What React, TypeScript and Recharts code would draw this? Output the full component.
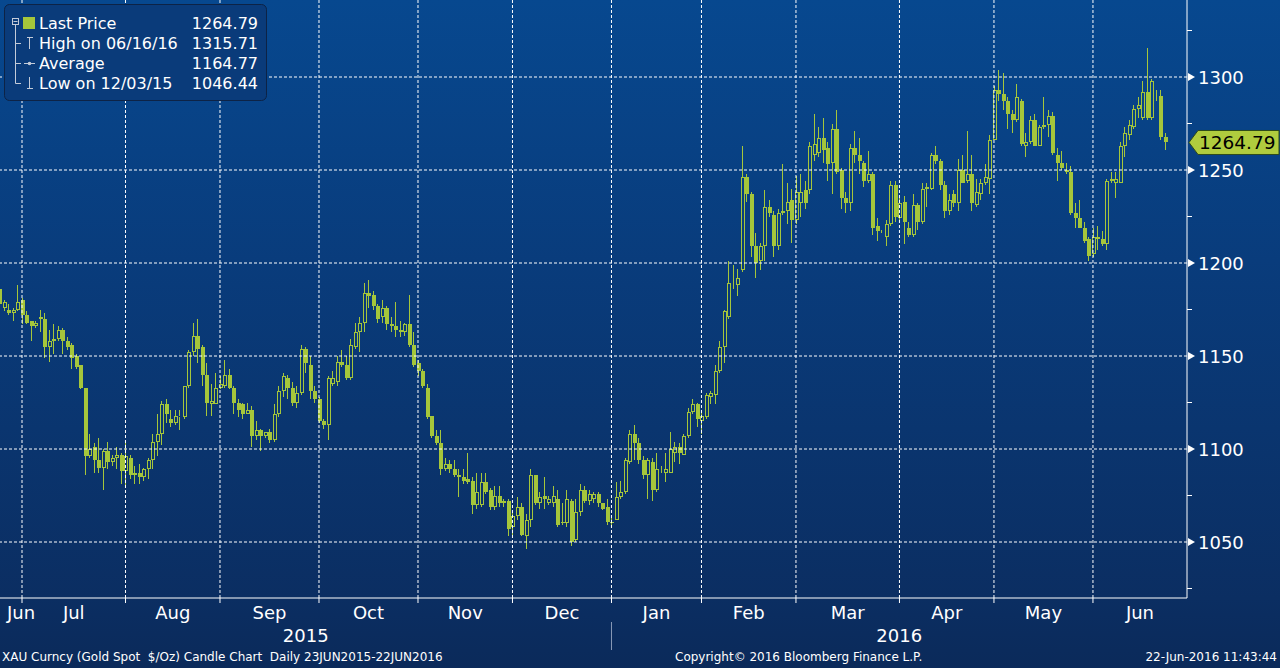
import React from "react"
import { ComposedChart, Bar, XAxis, YAxis, ReferenceLine } from "recharts"

// XAU Curncy daily candles, 23 Jun 2015 - 22 Jun 2016 (one entry per trading day)
const openPx = [
  1186, 1176, 1175, 1173, 1175, 1180, 1172, 1169, 1166, 1170,
  1170, 1155, 1158, 1159, 1164, 1158, 1156, 1150, 1145, 1133,
  1096, 1101, 1094, 1090, 1099, 1093, 1095, 1097, 1088, 1095,
  1086, 1087, 1085, 1089, 1094, 1104, 1108, 1124, 1116, 1114,
  1117, 1117, 1134, 1152, 1161, 1155, 1140, 1124, 1124, 1133,
  1134, 1140, 1133, 1125, 1124, 1119, 1121, 1107, 1110, 1107,
  1109, 1105, 1119, 1131, 1138, 1133, 1125, 1130, 1154, 1145,
  1131, 1127, 1115, 1113, 1135, 1136, 1147, 1145, 1138, 1155,
  1163, 1168, 1184, 1183, 1177, 1171, 1176, 1167, 1166, 1163,
  1163, 1167, 1156, 1146, 1142, 1133, 1118, 1107, 1103, 1089,
  1092, 1089, 1086, 1085, 1084, 1083, 1070, 1070, 1082, 1078,
  1069, 1075, 1071, 1072, 1058, 1064, 1069, 1053, 1062, 1086,
  1071, 1075, 1071, 1071, 1073, 1061, 1060, 1072, 1051, 1066,
  1078, 1072, 1073, 1076, 1071, 1069, 1061, 1062, 1074, 1077,
  1093, 1108, 1103, 1094, 1086, 1093, 1078, 1089, 1087, 1087,
  1098, 1101, 1097, 1107, 1120, 1124, 1115, 1117, 1128, 1129,
  1142, 1155, 1171, 1189, 1188, 1196, 1246, 1237, 1209, 1201,
  1209, 1230, 1226, 1209, 1227, 1228, 1234, 1223, 1232, 1239,
  1239, 1258, 1259, 1267, 1262, 1254, 1272, 1250, 1235, 1232,
  1262, 1258, 1254, 1244, 1248, 1220, 1217, 1214, 1221, 1242,
  1224, 1233, 1219, 1215, 1231, 1222, 1240, 1240, 1258, 1255,
  1242, 1228, 1237, 1232, 1250, 1244, 1248, 1231, 1237, 1243,
  1245, 1266, 1293, 1291, 1287, 1280, 1277, 1287, 1263, 1265,
  1277, 1263, 1273, 1274, 1279, 1258, 1254, 1250, 1249, 1227,
  1224, 1219, 1213, 1205, 1214, 1213, 1210, 1244, 1243, 1243,
  1263, 1269, 1273, 1283, 1278, 1292, 1278, 1290, 1290, 1268,
]

const highPx = [
  1188, 1180, 1178, 1176, 1188, 1181, 1174, 1169, 1169, 1175,
  1173, 1164, 1167, 1166, 1165, 1160, 1157, 1151, 1145, 1133,
  1108, 1103, 1106, 1100, 1104, 1097, 1101, 1098, 1103, 1097,
  1091, 1092, 1090, 1095, 1108, 1119, 1126, 1127, 1121, 1121,
  1121, 1134, 1153, 1168, 1170, 1156, 1146, 1135, 1141, 1139,
  1148, 1143, 1134, 1127, 1125, 1125, 1123, 1115, 1111, 1109,
  1111, 1124, 1134, 1141, 1140, 1136, 1134, 1156, 1155, 1150,
  1134, 1128, 1116, 1139, 1142, 1150, 1153, 1150, 1159, 1168,
  1171, 1189, 1191, 1185, 1178, 1180, 1177, 1171, 1179, 1169,
  1168, 1183, 1163, 1148, 1143, 1135, 1118, 1110, 1110, 1095,
  1094, 1094, 1089, 1089, 1098, 1085, 1087, 1087, 1087, 1079,
  1080, 1080, 1073, 1073, 1066, 1074, 1071, 1065, 1089, 1086,
  1077, 1085, 1075, 1080, 1078, 1071, 1078, 1073, 1073, 1081,
  1080, 1078, 1077, 1077, 1071, 1073, 1063, 1082, 1083, 1095,
  1110, 1113, 1106, 1096, 1095, 1095, 1098, 1091, 1098, 1109,
  1104, 1103, 1108, 1122, 1127, 1125, 1121, 1130, 1131, 1145,
  1158, 1175, 1201, 1199, 1197, 1263, 1248, 1238, 1216, 1211,
  1239, 1234, 1228, 1229, 1253, 1243, 1240, 1247, 1248, 1244,
  1265, 1280, 1273, 1278, 1265, 1275, 1282, 1251, 1238, 1264,
  1271, 1267, 1255, 1260, 1249, 1224, 1218, 1223, 1244, 1244,
  1235, 1236, 1222, 1237, 1232, 1243, 1243, 1259, 1263, 1256,
  1244, 1237, 1239, 1256, 1258, 1271, 1258, 1245, 1245, 1253,
  1269, 1295, 1304, 1302, 1289, 1282, 1296, 1288, 1270, 1279,
  1280, 1274, 1289, 1282, 1281, 1262, 1260, 1254, 1252, 1232,
  1234, 1222, 1214, 1219, 1220, 1217, 1245, 1249, 1249, 1265,
  1273, 1277, 1285, 1289, 1298, 1315.71, 1299, 1293, 1293, 1270,
]

const lowPx = [
  1177, 1174, 1172, 1169, 1174, 1167, 1167, 1158, 1165, 1163,
  1149, 1147, 1151, 1158, 1151, 1153, 1143, 1143, 1132, 1086,
  1095, 1087, 1087, 1078, 1089, 1091, 1089, 1081, 1079, 1084,
  1081, 1081, 1083, 1084, 1089, 1096, 1102, 1114, 1112, 1113,
  1110, 1116, 1133, 1150, 1146, 1134, 1118, 1118, 1124, 1132,
  1133, 1132, 1119, 1117, 1116, 1119, 1101, 1105, 1099, 1106,
  1103, 1104, 1117, 1128, 1127, 1123, 1122, 1129, 1141, 1127,
  1125, 1114, 1111, 1105, 1134, 1134, 1144, 1137, 1137, 1154,
  1152, 1163, 1176, 1175, 1168, 1168, 1164, 1163, 1160, 1160,
  1161, 1155, 1144, 1139, 1133, 1116, 1106, 1102, 1086, 1088,
  1087, 1085, 1074, 1081, 1081, 1065, 1068, 1069, 1076, 1067,
  1067, 1069, 1069, 1053, 1053, 1062, 1053, 1046.44, 1058, 1070,
  1068, 1068, 1070, 1069, 1058, 1059, 1058, 1048, 1050, 1064,
  1071, 1070, 1071, 1069, 1067, 1059, 1058, 1062, 1073, 1076,
  1092, 1094, 1092, 1084, 1073, 1072, 1077, 1087, 1082, 1087,
  1093, 1092, 1097, 1106, 1119, 1112, 1108, 1116, 1124, 1124,
  1141, 1146, 1170, 1186, 1182, 1195, 1233, 1203, 1192, 1196,
  1201, 1225, 1203, 1207, 1226, 1221, 1211, 1221, 1225, 1229,
  1237, 1255, 1257, 1254, 1244, 1237, 1248, 1229, 1227, 1228,
  1254, 1248, 1241, 1243, 1215, 1212, 1216, 1209, 1220, 1222,
  1222, 1210, 1214, 1214, 1218, 1221, 1230, 1239, 1253, 1239,
  1224, 1226, 1230, 1228, 1243, 1243, 1228, 1230, 1234, 1242,
  1237, 1266, 1287, 1282, 1272, 1270, 1276, 1263, 1257, 1264,
  1263, 1263, 1272, 1268, 1258, 1244, 1250, 1248, 1226, 1219,
  1219, 1211, 1201, 1203, 1207, 1209, 1207, 1243, 1235, 1243,
  1257, 1266, 1272, 1278, 1277, 1277, 1277, 1287, 1266, 1261,
]

const closePx = [
  1178, 1179, 1173, 1175, 1179, 1172, 1168, 1166, 1168, 1171,
  1155, 1158, 1159, 1164, 1158, 1155, 1149, 1144, 1133, 1096,
  1100, 1094, 1090, 1099, 1093, 1095, 1097, 1088, 1096, 1086,
  1087, 1085, 1089, 1094, 1104, 1108, 1124, 1119, 1114, 1118,
  1118, 1134, 1152, 1161, 1154, 1140, 1125, 1126, 1133, 1135,
  1140, 1133, 1125, 1121, 1119, 1121, 1107, 1110, 1107, 1109,
  1105, 1119, 1131, 1139, 1133, 1125, 1130, 1154, 1146, 1131,
  1127, 1115, 1113, 1138, 1138, 1147, 1145, 1138, 1156, 1163,
  1168, 1184, 1182, 1177, 1170, 1176, 1167, 1166, 1164, 1164,
  1167, 1156, 1145, 1142, 1134, 1117, 1107, 1103, 1089, 1092,
  1089, 1086, 1085, 1083, 1082, 1070, 1077, 1082, 1077, 1069,
  1075, 1071, 1072, 1057, 1064, 1069, 1054, 1062, 1086, 1071,
  1074, 1073, 1073, 1075, 1059, 1060, 1073, 1050, 1066, 1078,
  1072, 1076, 1076, 1071, 1068, 1061, 1060, 1074, 1077, 1094,
  1108, 1103, 1094, 1086, 1094, 1078, 1089, 1089, 1089, 1100,
  1101, 1098, 1107, 1120, 1124, 1116, 1118, 1129, 1130, 1142,
  1155, 1174, 1189, 1189, 1192, 1246, 1237, 1209, 1200, 1209,
  1230, 1227, 1209, 1227, 1228, 1233, 1223, 1238, 1238, 1232,
  1263, 1264, 1267, 1261, 1253, 1272, 1249, 1235, 1232, 1262,
  1258, 1255, 1244, 1248, 1219, 1217, 1217, 1221, 1242, 1225,
  1232, 1222, 1215, 1231, 1222, 1240, 1241, 1258, 1255, 1242,
  1228, 1234, 1232, 1250, 1243, 1248, 1232, 1238, 1243, 1246,
  1266, 1293, 1291, 1287, 1280, 1277, 1289, 1264, 1265, 1277,
  1263, 1273, 1274, 1279, 1259, 1254, 1251, 1249, 1227, 1224,
  1219, 1212, 1204, 1214, 1213, 1210, 1244, 1245, 1245, 1263,
  1270, 1274, 1283, 1285, 1292, 1278, 1298, 1290, 1268, 1264.79,
]

// last trading day of each month (index into the series, 1-based)
const monthEnds = [6, 29, 50, 72, 94, 115, 137, 157, 178, 201, 222, 244]
const monthLabels = ["Jun", "Jul", "Aug", "Sep", "Oct", "Nov", "Dec", "Jan", "Feb", "Mar", "Apr", "May", "Jun"]
const yearLabels = ["2015", "2016"]
const yearBreak = 137

const majorTicks = [1050, 1100, 1150, 1200, 1250, 1300]
const minorTicks = [1025, 1075, 1125, 1175, 1225, 1275, 1325]

const legendNames = ["Last Price", "High on 06/16/16", "Average", "Low on 12/03/15"]
const legendValues = ["1264.79", "1315.71", "1164.77", "1046.44"]
const lastPrice = 1264.79

const FONT = "'DejaVu Sans', sans-serif"
const GREEN = "#a5c63b"
const X_MIN = 1.11
const X_MAX = 264.9
const Y_MIN = 1019.9
const Y_MAX = 1341.4

const candles = closePx.map((c, k) => ({
  i: k + 1,
  o: openPx[k],
  h: highPx[k],
  l: lowPx[k],
  c,
  range: [lowPx[k], highPx[k]],
}))

const bounds = [X_MIN, ...monthEnds, X_MAX]
const monthMids = monthLabels.map((_, k) => (bounds[k] + bounds[k + 1]) / 2)
const yearMids = [(X_MIN + yearBreak) / 2, (yearBreak + X_MAX) / 2]

function Candle(props: any) {
  const { x, y, width, height, payload } = props
  if (x == null || !payload) return null
  const top = Math.min(y, y + height)
  const span = Math.abs(height)
  const { o, h, l, c } = payload
  const py = (p: number) => top + ((h - p) / (h - l || 1)) * span
  const cx = Math.round(x + width / 2) + 0.5
  const bTop = Math.round(py(Math.max(o, c)))
  const bBot = Math.round(py(Math.min(o, c)))
  const yHi = Math.round(py(h))
  const yLo = Math.round(py(l))
  if (c < o) {
    return (
      <g>
        <line x1={cx} x2={cx} y1={yHi} y2={yLo} stroke={GREEN} strokeWidth={1} />
        <rect x={cx - 1.5} y={bTop} width={4} height={Math.max(1, bBot - bTop)} fill={GREEN} />
      </g>
    )
  }
  return (
    <g>
      <line x1={cx} x2={cx} y1={yHi} y2={bTop} stroke={GREEN} strokeWidth={1} />
      <line x1={cx} x2={cx} y1={bBot} y2={yLo} stroke={GREEN} strokeWidth={1} />
      <rect x={cx - 1} y={bTop + 0.5} width={3} height={Math.max(0, bBot - bTop - 1)} fill="none" stroke={GREEN} strokeWidth={1} />
    </g>
  )
}

function MonthTick({ x, y, payload }: any) {
  const k = monthMids.indexOf(payload.value)
  if (k < 0) {
    return <line x1={x} x2={x} y1={y} y2={y + 5} stroke="#ffffff" />
  }
  return (
    <text x={Math.max(x, 21)} y={y + 21} textAnchor="middle" fill="#ffffff" fontSize={18} fontFamily={FONT}>
      {monthLabels[k]}
    </text>
  )
}

function YearTick({ x, y, payload }: any) {
  const k = yearMids.indexOf(payload.value)
  if (k < 0) {
    return <line x1={x} x2={x} y1={y} y2={y + 28} stroke="#8a9bb8" />
  }
  return (
    <text x={x} y={y + 20} textAnchor="middle" fill="#ffffff" fontSize={18} fontFamily={FONT}>
      {yearLabels[k]}
    </text>
  )
}

function PriceTick({ x, y, payload }: any) {
  const v = payload.value
  if (!majorTicks.includes(v)) {
    return <line x1={x} x2={x + 5} y1={y} y2={y} stroke="#ffffff" />
  }
  return (
    <g>
      <polygon points={`${x + 1},${y - 4} ${x + 8},${y} ${x + 1},${y + 4}`} fill="#ffffff" />
      <text x={x + 11} y={y + 6.5} fill="#ffffff" fontSize={18} fontFamily={FONT}>
        {v}
      </text>
    </g>
  )
}

function PriceTag({ viewBox }: any) {
  if (!viewBox) return null
  const x = viewBox.x + viewBox.width
  const y = viewBox.y
  return (
    <g>
      <polygon
        points={`${x + 2},${y} ${x + 11},${y - 12} ${x + 92},${y - 12} ${x + 92},${y + 12} ${x + 11},${y + 12}`}
        fill="#b0cc3e"
        stroke="#2f4a1c"
        strokeWidth={1}
      />
      <text x={x + 12} y={y + 7} fill="#000000" fontSize={18.5} fontFamily={FONT}>
        {lastPrice.toFixed(2)}
      </text>
    </g>
  )
}

function LegendBox() {
  const rowY = [23, 43, 63, 83]
  const icon = "#c3cbd9"
  return (
    <svg width={272} height={106} style={{ position: "absolute", left: 0, top: 0 }}>
      <rect x={4.5} y={4.5} width={262} height={96} rx={5} fill="#0a3b7a" stroke="#0d2346" />
      {/* tree */}
      <rect x={12.5} y={18.5} width={6} height={6} fill="none" stroke={icon} />
      <line x1={13.5} x2={17.5} y1={21.5} y2={21.5} stroke={icon} />
      <line x1={15.5} x2={15.5} y1={25} y2={rowY[3] + 0.5} stroke={icon} />
      {rowY.slice(1).map((ry) => (
        <line key={ry} x1={15.5} x2={21} y1={ry + 0.5} y2={ry + 0.5} stroke={icon} />
      ))}
      <rect x={23} y={17} width={12} height={12} fill={GREEN} />
      <line x1={27} x2={33} y1={37.5} y2={37.5} stroke={icon} />
      <line x1={29.5} x2={29.5} y1={37.5} y2={49} stroke={icon} />
      <line x1={24} x2={35} y1={63.5} y2={63.5} stroke={icon} />
      <circle cx={29.5} cy={63.5} r={1.8} fill={icon} />
      <line x1={29.5} x2={29.5} y1={77} y2={88.5} stroke={icon} />
      <line x1={27} x2={33} y1={88.5} y2={88.5} stroke={icon} />
      {legendNames.map((n, k) => (
        <text key={n} x={39} y={rowY[k] + 6} fill="#ffffff" fontSize={16} fontFamily={FONT}>
          {n}
        </text>
      ))}
      {legendValues.map((v, k) => (
        <text key={v} x={258} y={rowY[k] + 6} textAnchor="end" fill="#ffffff" fontSize={16} fontFamily={FONT}>
          {v}
        </text>
      ))}
    </svg>
  )
}

export default function App() {
  const footer = { position: "absolute" as const, top: 650, fontSize: 12, fontFamily: FONT, color: "#ffffff", whiteSpace: "pre" as const }
  return (
    <div
      style={{
        position: "relative",
        width: 1280,
        height: 668,
        overflow: "hidden",
        background: "linear-gradient(180deg, #07488f 0px, #093c7c 260px, #0b2e62 598px, #0b2a5a 668px)",
      }}
    >
      <style>{"body{margin:0}"}</style>
      <ComposedChart width={1280} height={668} data={candles} margin={{ top: 0, right: 0, bottom: 22, left: 0 }}>
        <XAxis
          xAxisId="m"
          type="number"
          dataKey="i"
          domain={[X_MIN, X_MAX]}
          allowDataOverflow
          ticks={[...monthEnds, ...monthMids]}
          interval={0}
          tick={<MonthTick />}
          tickLine={false}
          tickSize={0}
          tickMargin={0}
          height={24}
          axisLine={{ stroke: "#ffffff" }}
        />
        <XAxis
          xAxisId="y"
          type="number"
          dataKey="i"
          domain={[X_MIN, X_MAX]}
          allowDataOverflow
          ticks={[yearMids[0], yearBreak, yearMids[1]]}
          interval={0}
          tick={<YearTick />}
          tickLine={false}
          tickSize={0}
          tickMargin={0}
          height={24}
          axisLine={false}
        />
        <YAxis
          orientation="right"
          type="number"
          domain={[Y_MIN, Y_MAX]}
          allowDataOverflow
          ticks={[...minorTicks, ...majorTicks].sort((a, b) => a - b)}
          interval={0}
          tick={<PriceTick />}
          tickLine={false}
          tickSize={0}
          tickMargin={0}
          width={93}
          axisLine={{ stroke: "#ffffff" }}
        />
        {majorTicks.map((v) => (
          <ReferenceLine key={`h${v}`} xAxisId="m" y={v} stroke="#ffffff" strokeDasharray="3 2" />
        ))}
        {monthEnds.map((v) => (
          <ReferenceLine key={`v${v}`} xAxisId="m" x={v} stroke="#ffffff" strokeDasharray="3 2" />
        ))}
        <Bar xAxisId="m" dataKey="range" barSize={4} shape={<Candle />} isAnimationActive={false} />
        <ReferenceLine xAxisId="m" y={lastPrice} stroke="none" label={<PriceTag />} />
      </ComposedChart>
      <LegendBox />
      <div style={{ ...footer, left: 2 }}>{"XAU Curncy (Gold Spot  $/Oz) Candle Chart  Daily 23JUN2015-22JUN2016"}</div>
      <div style={{ ...footer, left: 675 }}>{"Copyright\u00a9 2016 Bloomberg Finance L.P."}</div>
      <div style={{ ...footer, right: 3 }}>{"22-Jun-2016 11:43:44"}</div>
    </div>
  )
}
